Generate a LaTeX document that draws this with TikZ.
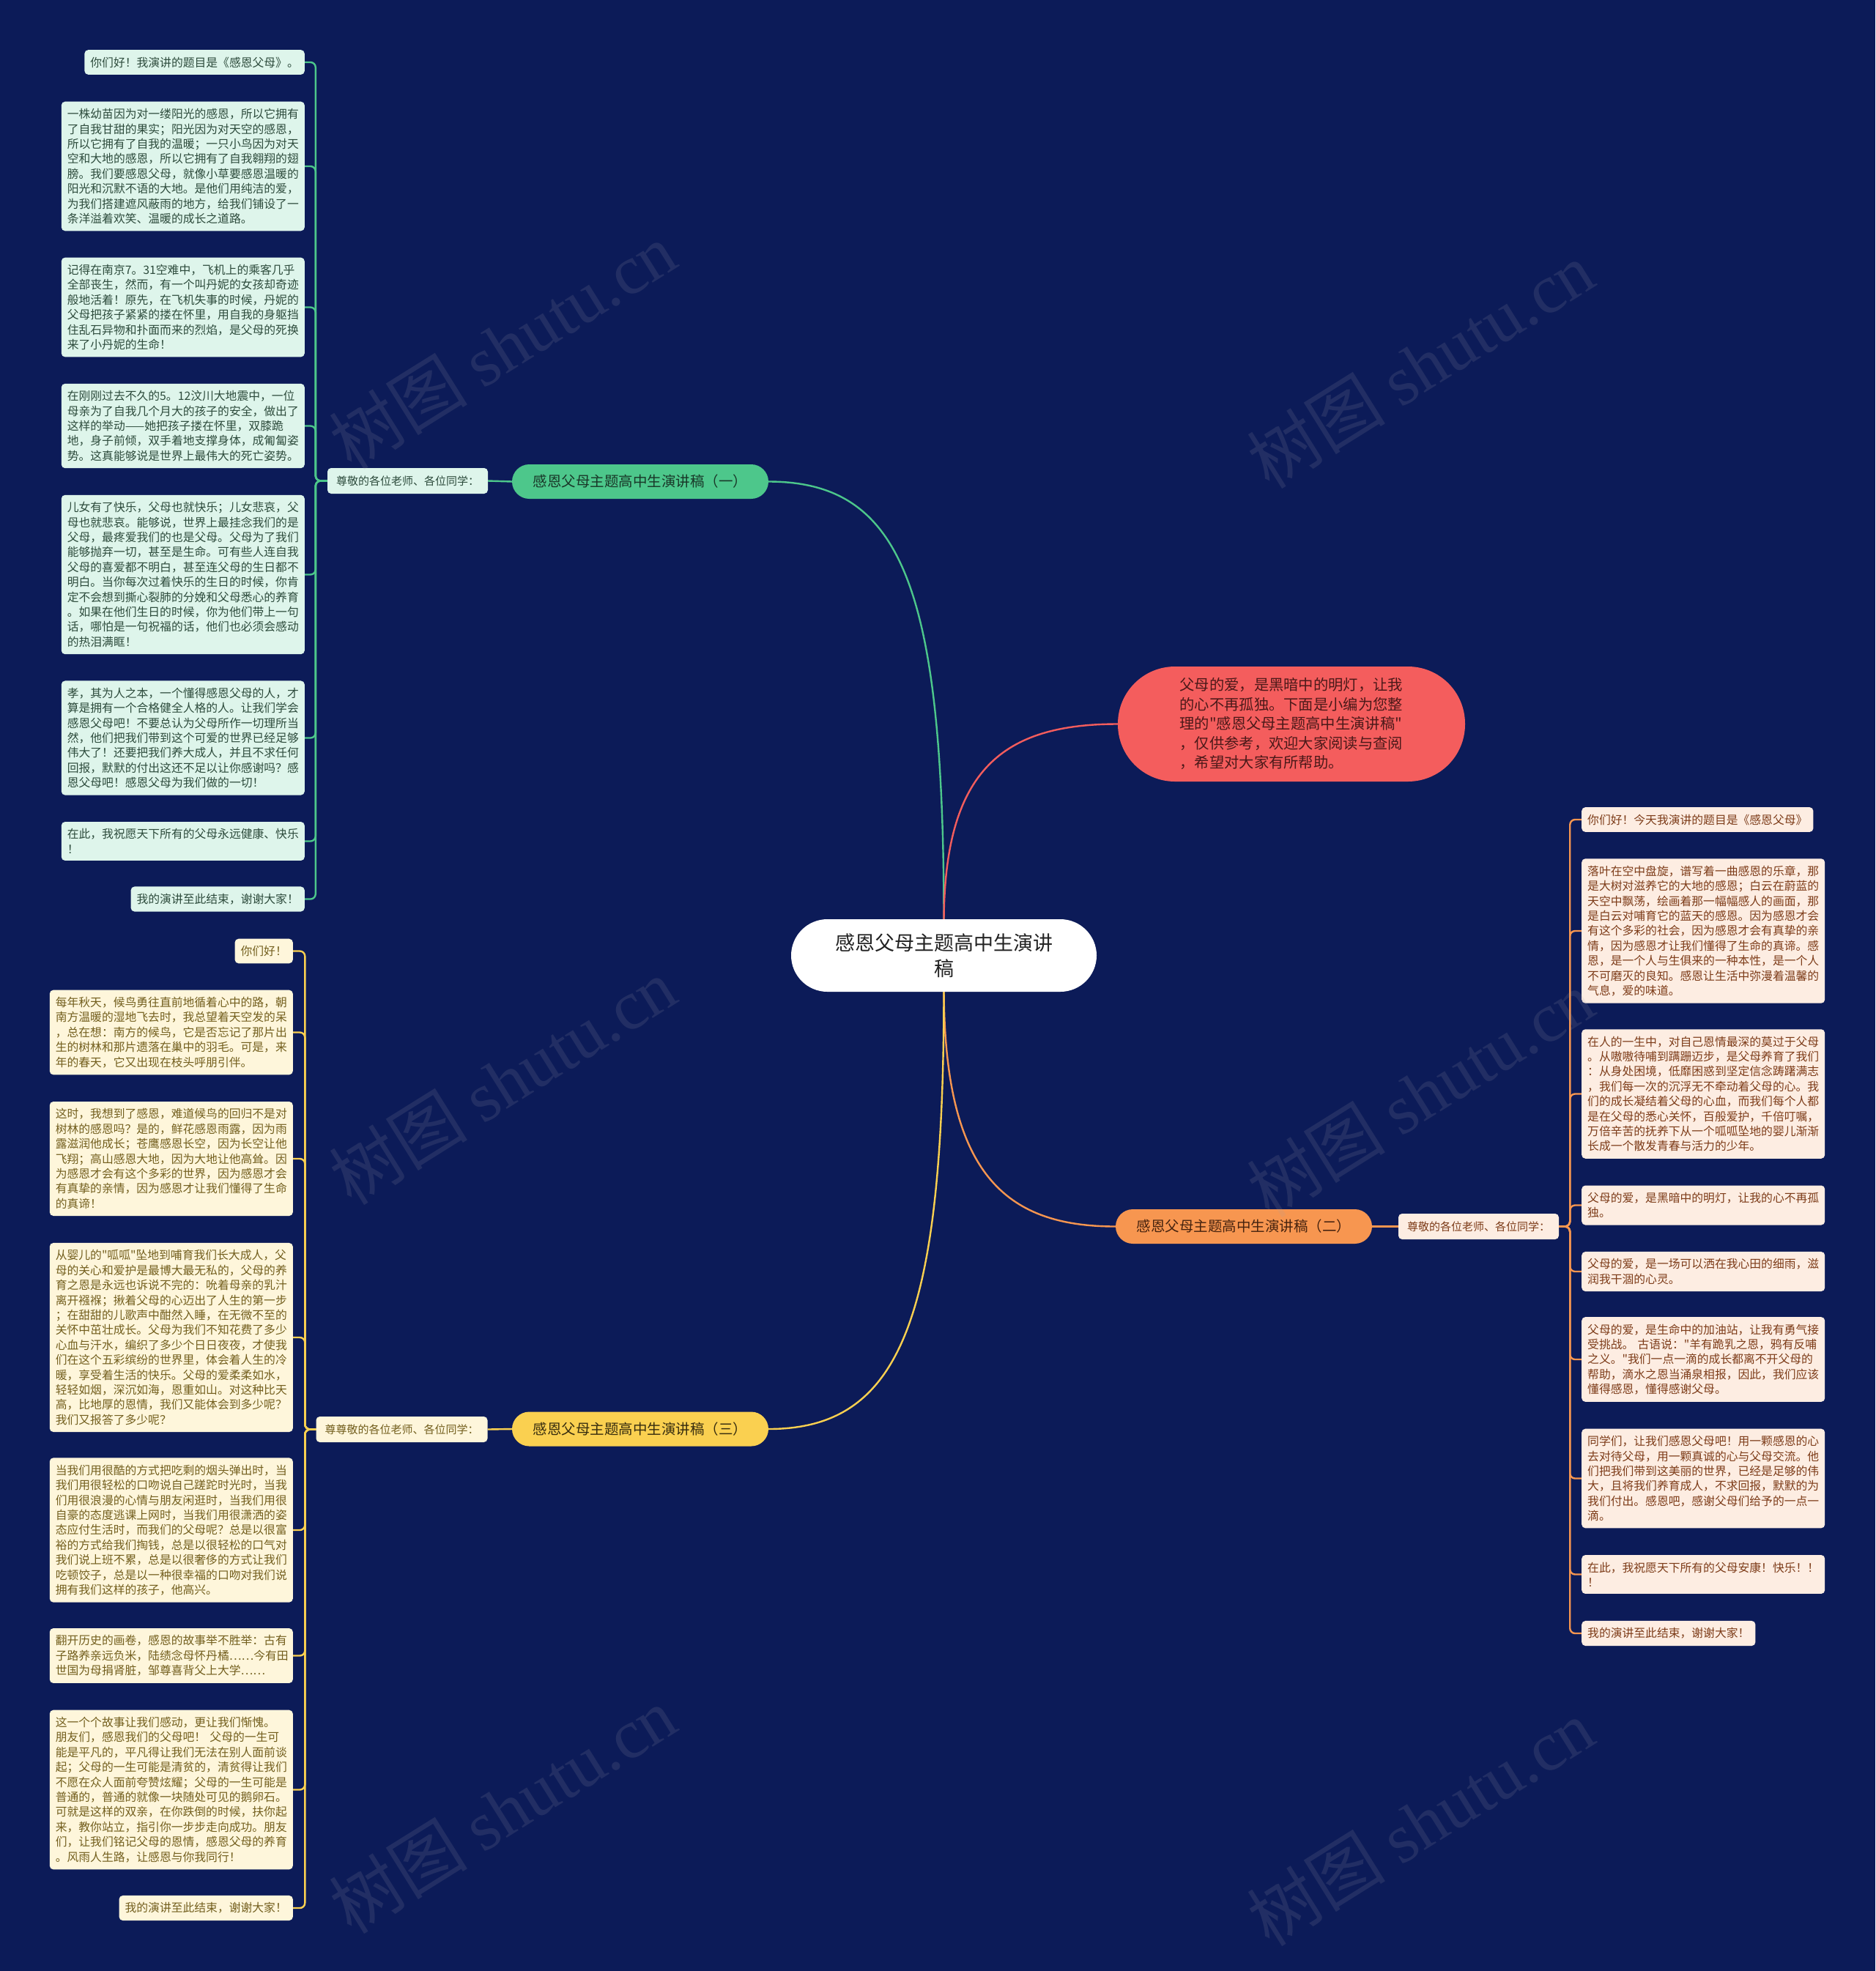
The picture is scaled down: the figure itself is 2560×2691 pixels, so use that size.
\documentclass[tikz,border=0pt]{standalone}
\usepackage{fontspec}
\setmainfont{Noto Sans CJK SC}
\newfontfamily\wmserif{Liberation Serif}
\usetikzlibrary{calc}
\definecolor{bgc}{RGB}{12,27,88}
\definecolor{gc}{RGB}{77,199,139}
\definecolor{gleafc}{RGB}{222,245,235}
\definecolor{gtextc}{RGB}{45,75,60}
\definecolor{gpillt}{RGB}{25,55,40}
\definecolor{oc}{RGB}{247,150,80}
\definecolor{oleafc}{RGB}{253,237,226}
\definecolor{otextc}{RGB}{125,60,25}
\definecolor{opillt}{RGB}{70,35,15}
\definecolor{yc}{RGB}{250,208,80}
\definecolor{yleafc}{RGB}{254,246,219}
\definecolor{ytextc}{RGB}{115,95,30}
\definecolor{ypillt}{RGB}{55,45,15}
\definecolor{rc}{RGB}{244,93,93}
\definecolor{rtextc}{RGB}{75,25,25}
\definecolor{rootc}{RGB}{34,34,34}
\definecolor{wmc}{RGB}{160,160,172}
\newcommand\leaffont{\fontsize{15.8}{20.4}\selectfont}
\newcommand\labfont{\fontsize{15}{18}\selectfont}
\newcommand\sq{\XeTeXglyph\XeTeXcharglyph"22\relax}
\pgfdeclarelayer{back}
\pgfdeclarelayer{lines}
\pgfsetlayers{back,lines,main}
\begin{document}
\begin{tikzpicture}[x=1pt,y=-1pt,
  rootnode/.style={fill=white,text=rootc,rounded corners=49.5pt,minimum width=417pt,minimum height=99pt,align=center,font=\fontsize{27}{35}\selectfont,inner sep=0pt},
  rednode/.style={fill=rc,text=rtextc,rounded corners=78pt,minimum width=474pt,minimum height=157pt,text width=305pt,align=left,font=\fontsize{20.3}{26.5}\selectfont,inner sep=0pt},
  pill/.style={rounded corners=23.5pt,minimum width=350pt,minimum height=47pt,font=\fontsize{19.5}{24}\selectfont,inner sep=0pt},
  lab/.style={rounded corners=5pt,inner xsep=12pt,inner ysep=0pt,minimum height=35pt,font=\labfont},
  leaf/.style={rounded corners=5pt,inner xsep=8pt,inner ysep=9.5pt,align=left,font=\leaffont},
  wide/.style={text width=316pt},
  gleaf/.style={leaf,fill=gleafc,text=gtextc,anchor=east},
  yleaf/.style={leaf,fill=yleafc,text=ytextc,anchor=east},
  oleaf/.style={leaf,fill=oleafc,text=otextc,anchor=west},
  gconn/.style={draw=gc,line width=2.4pt},
  oconn/.style={draw=oc,line width=2.4pt},
  yconn/.style={draw=yc,line width=2.4pt},
  rconn/.style={draw=rc,line width=2.4pt},
  brk/.style={rounded corners=7pt},
  wm/.style={rotate=32,text=wmc,opacity=0.15,font=\fontsize{95}{95}\selectfont,inner sep=0pt}
]
\begin{pgfonlayer}{back}
\fill[bgc] (0,0) rectangle (2560,2691);
\end{pgfonlayer}
\useasboundingbox (0,0) rectangle (2560,2691);

% root and first-level nodes
\node[rootnode] (root) at (1288.5,1304.5) {感恩父母主题高中生演讲\\稿};
\node[rednode] (red) at (1763,988.5) {父母的爱，是黑暗中的明灯，让我\\的心不再孤独。下面是小编为您整\\理的\sq 感恩父母主题高中生演讲稿\sq\\，仅供参考，欢迎大家阅读与查阅\\，希望对大家有所帮助。};
\node[pill,fill=gc,text=gpillt] (gp) at (874,657.5) {感恩父母主题高中生演讲稿（一）};
\node[pill,fill=oc,text=opillt] (op) at (1698,1674.5) {感恩父母主题高中生演讲稿（二）};
\node[pill,fill=yc,text=ypillt] (yp) at (874,1951) {感恩父母主题高中生演讲稿（三）};

\node[lab,fill=gleafc,text=gtextc] (gl) at (556.5,656.5) {尊敬的各位老师、各位同学：};
\node[lab,fill=oleafc,text=otextc] (ol) at (2018.5,1674.5) {尊敬的各位老师、各位同学：};
\node[lab,fill=yleafc,text=ytextc] (yl) at (548.5,1951.5) {尊尊敬的各位老师、各位同学：};

% green leaves
\node[gleaf] (g1) at (416,85) {你们好！我演讲的题目是《感恩父母》。};
\node[gleaf,wide] (g2) at (416,227) {一株幼苗因为对一缕阳光的感恩，所以它拥有\\了自我甘甜的果实；阳光因为对天空的感恩，\\所以它拥有了自我的温暖；一只小鸟因为对天\\空和大地的感恩，所以它拥有了自我翱翔的翅\\膀。我们要感恩父母，就像小草要感恩温暖的\\阳光和沉默不语的大地。是他们用纯洁的爱，\\为我们搭建遮风蔽雨的地方，给我们铺设了一\\条洋溢着欢笑、温暖的成长之道路。};
\node[gleaf,wide] (g3) at (416,419.5) {记得在南京7。31空难中，飞机上的乘客几乎\\全部丧生，然而，有一个叫丹妮的女孩却奇迹\\般地活着！原先，在飞机失事的时候，丹妮的\\父母把孩子紧紧的搂在怀里，用自我的身躯挡\\住乱石异物和扑面而来的烈焰，是父母的死换\\来了小丹妮的生命！};
\node[gleaf,wide] (g4) at (416,581.5) {在刚刚过去不久的5。12汶川大地震中，一位\\母亲为了自我几个月大的孩子的安全，做出了\\这样的举动——她把孩子搂在怀里，双膝跪\\地，身子前倾，双手着地支撑身体，成匍匐姿\\势。这真能够说是世界上最伟大的死亡姿势。};
\node[gleaf,wide] (g5) at (416,784.5) {儿女有了快乐，父母也就快乐；儿女悲哀，父\\母也就悲哀。能够说，世界上最挂念我们的是\\父母，最疼爱我们的也是父母。父母为了我们\\能够抛弃一切，甚至是生命。可有些人连自我\\父母的喜爱都不明白，甚至连父母的生日都不\\明白。当你每次过着快乐的生日的时候，你肯\\定不会想到撕心裂肺的分娩和父母悉心的养育\\。如果在他们生日的时候，你为他们带上一句\\话，哪怕是一句祝福的话，他们也必须会感动\\的热泪满眶！};
\node[gleaf,wide] (g6) at (416,1007.5) {孝，其为人之本，一个懂得感恩父母的人，才\\算是拥有一个合格健全人格的人。让我们学会\\感恩父母吧！不要总认为父母所作一切理所当\\然，他们把我们带到这个可爱的世界已经足够\\伟大了！还要把我们养大成人，并且不求任何\\回报，默默的付出这还不足以让你感谢吗？感\\恩父母吧！感恩父母为我们做的一切！};
\node[gleaf,wide] (g7) at (416,1148.5) {在此，我祝愿天下所有的父母永远健康、快乐\\！};
\node[gleaf] (g8) at (416,1227.5) {我的演讲至此结束，谢谢大家！};

% yellow leaves
\node[yleaf] (y1) at (400,1298.5) {你们好！};
\node[yleaf,wide] (y2) at (400,1409.5) {每年秋天，候鸟勇往直前地循着心中的路，朝\\南方温暖的湿地飞去时，我总望着天空发的呆\\，总在想：南方的候鸟，它是否忘记了那片出\\生的树林和那片遗落在巢中的羽毛。可是，来\\年的春天，它又出现在枝头呼朋引伴。};
\node[yleaf,wide] (y3) at (400,1582) {这时，我想到了感恩，难道候鸟的回归不是对\\树林的感恩吗？是的，鲜花感恩雨露，因为雨\\露滋润他成长；苍鹰感恩长空，因为长空让他\\飞翔；高山感恩大地，因为大地让他高耸。因\\为感恩才会有这个多彩的世界，因为感恩才会\\有真挚的亲情，因为感恩才让我们懂得了生命\\的真谛！};
\node[yleaf,wide] (y4) at (400,1826) {从婴儿的\sq 呱呱\sq 坠地到哺育我们长大成人，父\\母的关心和爱护是最博大最无私的，父母的养\\育之恩是永远也诉说不完的：吮着母亲的乳汁\\离开襁褓；揪着父母的心迈出了人生的第一步\\；在甜甜的儿歌声中酣然入睡，在无微不至的\\关怀中茁壮成长。父母为我们不知花费了多少\\心血与汗水，编织了多少个日日夜夜，才使我\\们在这个五彩缤纷的世界里，体会着人生的冷\\暖，享受着生活的快乐。父母的爱柔柔如水，\\轻轻如烟，深沉如海，恩重如山。对这种比天\\高，比地厚的恩情，我们又能体会到多少呢？\\我们又报答了多少呢？};
\node[yleaf,wide] (y5) at (400,2089) {当我们用很酷的方式把吃剩的烟头弹出时，当\\我们用很轻松的口吻说自己蹉跎时光时，当我\\们用很浪漫的心情与朋友闲逛时，当我们用很\\自豪的态度逃课上网时，当我们用很潇洒的姿\\态应付生活时，而我们的父母呢？总是以很富\\裕的方式给我们掏钱，总是以很轻松的口气对\\我们说上班不累，总是以很奢侈的方式让我们\\吃顿饺子，总是以一种很幸福的口吻对我们说\\拥有我们这样的孩子，他高兴。};
\node[yleaf,wide] (y6) at (400,2260.5) {翻开历史的画卷，感恩的故事举不胜举：古有\\子路养亲远负米，陆绩念母怀丹橘……今有田\\世国为母捐肾脏，邹尊喜背父上大学……};
\node[yleaf,wide] (y7) at (400,2443.5) {这一个个故事让我们感动，更让我们惭愧。\\朋友们，感恩我们的父母吧！ 父母的一生可\\能是平凡的，平凡得让我们无法在别人面前谈\\起；父母的一生可能是清贫的，清贫得让我们\\不愿在众人面前夸赞炫耀；父母的一生可能是\\普通的，普通的就像一块随处可见的鹅卵石。\\可就是这样的双亲，在你跌倒的时候，扶你起\\来，教你站立，指引你一步步走向成功。朋友\\们，让我们铭记父母的恩情，感恩父母的养育\\。风雨人生路，让感恩与你我同行！};
\node[yleaf] (y8) at (400,2605) {我的演讲至此结束，谢谢大家！};

% orange leaves
\node[oleaf] (o1) at (2159,1119) {你们好！今天我演讲的题目是《感恩父母》};
\node[oleaf,wide] (o2) at (2159,1271) {落叶在空中盘旋，谱写着一曲感恩的乐章，那\\是大树对滋养它的大地的感恩；白云在蔚蓝的\\天空中飘荡，绘画着那一幅幅感人的画面，那\\是白云对哺育它的蓝天的感恩。因为感恩才会\\有这个多彩的社会，因为感恩才会有真挚的亲\\情，因为感恩才让我们懂得了生命的真谛。感\\恩，是一个人与生俱来的一种本性，是一个人\\不可磨灭的良知。感恩让生活中弥漫着温馨的\\气息，爱的味道。};
\node[oleaf,wide] (o3) at (2159,1493.5) {在人的一生中，对自己恩情最深的莫过于父母\\。从嗷嗷待哺到蹒跚迈步，是父母养育了我们\\：从身处困境，低靡困惑到坚定信念踌躇满志\\，我们每一次的沉浮无不牵动着父母的心。我\\们的成长凝结着父母的心血，而我们每个人都\\是在父母的悉心关怀，百般爱护，千倍叮嘱，\\万倍辛苦的抚养下从一个呱呱坠地的婴儿渐渐\\长成一个散发青春与活力的少年。};
\node[oleaf,wide] (o4) at (2159,1645.5) {父母的爱，是黑暗中的明灯，让我的心不再孤\\独。};
\node[oleaf,wide] (o5) at (2159,1736) {父母的爱，是一场可以洒在我心田的细雨，滋\\润我干涸的心灵。};
\node[oleaf,wide] (o6) at (2159,1856) {父母的爱，是生命中的加油站，让我有勇气接\\受挑战。~古语说：\sq 羊有跪乳之恩，鸦有反哺\\之义。\sq 我们一点一滴的成长都离不开父母的\\帮助，滴水之恩当涌泉相报，因此，我们应该\\懂得感恩，懂得感谢父母。};
\node[oleaf,wide] (o7) at (2159,2018.5) {同学们，让我们感恩父母吧！用一颗感恩的心\\去对待父母，用一颗真诚的心与父母交流。他\\们把我们带到这美丽的世界，已经是足够的伟\\大，且将我们养育成人，不求回报，默默的为\\我们付出。感恩吧，感谢父母们给予的一点一\\滴。};
\node[oleaf,wide] (o8) at (2159,2149.5) {在此，我祝愿天下所有的父母安康！快乐！！\\！};
\node[oleaf] (o9) at (2159,2230) {我的演讲至此结束，谢谢大家！};

% connectors
\begin{pgfonlayer}{lines}
\draw[gconn] (root.north) .. controls (1288,800) and (1230,657.5) .. (gp.east);
\draw[rconn] (root.north) .. controls (1290,1050) and (1370,988.5) .. (red.west);
\draw[oconn] (root.south) .. controls (1290,1600) and (1370,1674.5) .. (op.west);
\draw[yconn] (root.south) .. controls (1288,1800) and (1230,1951) .. (yp.east);
\draw[gconn] (gp.west) -- (gl.east);
\draw[oconn] (op.east) -- (ol.west);
\draw[yconn] (yp.west) -- (yl.east);
\foreach \n in {g1,g2,g3,g4,g5,g6,g7,g8}
  \draw[gconn,brk] (gl.west) -- ++(-16,0) |- (\n.east);
\foreach \n in {y1,y2,y3,y4,y5,y6,y7,y8}
  \draw[yconn,brk] (yl.west) -- ++(-15,0) |- (\n.east);
\foreach \n in {o1,o2,o3,o4,o5,o6,o7,o8,o9}
  \draw[oconn,brk] (ol.east) -- ++(15,0) |- (\n.west);
\end{pgfonlayer}

% watermarks
\foreach \wx/\wy in {686/472,1939/498,686/1476,1939/1493,686/2471,1939/2488}
  \node[wm] at (\wx,\wy) {树图 {\wmserif shutu.cn}};
\end{tikzpicture}
\end{document}
